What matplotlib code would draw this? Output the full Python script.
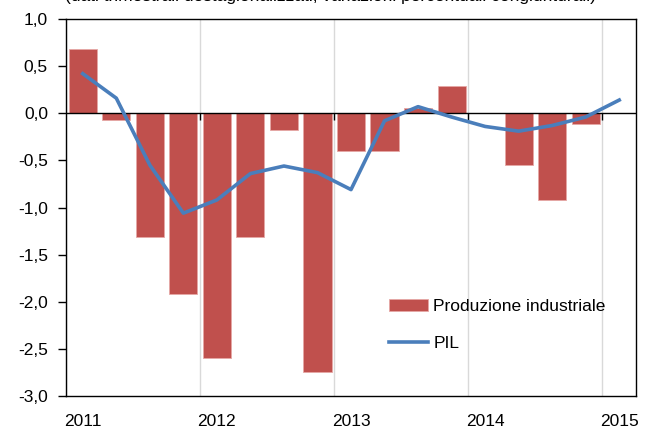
import matplotlib
matplotlib.use("Agg")
import matplotlib.pyplot as plt
from matplotlib.ticker import FuncFormatter

plt.rcParams['font.family'] = ['Liberation Sans', 'DejaVu Sans']

# quarters 2011Q1 ... 2015Q1
quarters = ['2011Q1', '2011Q2', '2011Q3', '2011Q4',
            '2012Q1', '2012Q2', '2012Q3', '2012Q4',
            '2013Q1', '2013Q2', '2013Q3', '2013Q4',
            '2014Q1', '2014Q2', '2014Q3', '2014Q4', '2015Q1']

# produzione industriale, 2011Q1 - 2014Q4
prod_ind = [0.68, -0.07, -1.31, -1.92,
            -2.60, -1.31, -0.18, -2.75,
            -0.40, -0.40, 0.06, 0.29,
            0.0, -0.55, -0.92, -0.11]

# PIL, 2011Q1 - 2015Q1
pil = [0.42, 0.16, -0.55, -1.06,
       -0.92, -0.64, -0.56, -0.63,
       -0.81, -0.08, 0.07, -0.04,
       -0.14, -0.19, -0.13, -0.04, 0.14]

years = [2011, 2012, 2013, 2014, 2015]
subtitle = "(dati trimestrali destagionalizzati; variazioni percentuali congiunturali)"


def qpos(q):
    return int(q[:4]) + (int(q[5]) - 0.5) / 4


x_pil = [qpos(q) for q in quarters]
x_bar = x_pil[:len(prod_ind)]

fig = plt.figure(figsize=(6.56, 4.30), dpi=100)
ax = fig.add_axes([66 / 656, 34 / 430, 570 / 656, 377 / 430])

bars = ax.bar(x_bar, prod_ind, width=0.21, color='#C0504D', edgecolor='#E6A8A6',
              linewidth=0.6, label='Produzione industriale', zorder=2)
line, = ax.plot(x_pil, pil, color='#4A7EBB', linewidth=2.6, label='PIL', zorder=4)

ax.axhline(0, color='black', linewidth=1.0, zorder=3)
ax.vlines(years[1:], -0.07, 0, color='black', linewidth=1.0, zorder=3)

ax.set_xlim(2011, 2015.25)
ax.set_ylim(-3.0, 1.0)

ax.set_xticks(years)
ax.set_xticklabels([])
ax.set_xticks([y + 0.125 for y in years], minor=True)
ax.set_xticklabels([str(y) for y in years], minor=True)
ax.tick_params(axis='x', which='both', length=0, pad=13, labelsize=12.5)
ax.xaxis.grid(True, which='major', color='#D9D9D9', linewidth=1.0)
ax.set_axisbelow(True)

ax.set_yticks([1.0, 0.5, 0.0, -0.5, -1.0, -1.5, -2.0, -2.5, -3.0])
ax.yaxis.set_major_formatter(FuncFormatter(lambda v, p: f"{v:.1f}".replace('.', ',')))
ax.tick_params(axis='y', length=6, width=1, pad=7, labelsize=12.5)

for s in ax.spines.values():
    s.set_color('black')
    s.set_linewidth(1.0)

ax.legend([bars, line], ['Produzione industriale', 'PIL'],
          loc='center left', bbox_to_anchor=(0.567, 0.189), frameon=False,
          fontsize=12.5, handlelength=2.25, handletextpad=0.3,
          labelspacing=1.25, borderpad=0, borderaxespad=0)

# subtitle is cut at the top edge, as in the original
fig.text(0.503, 1 - 0.8 / 430, subtitle, ha='center', va='baseline', fontsize=12.5)

fig.savefig('out.png', dpi=100)
